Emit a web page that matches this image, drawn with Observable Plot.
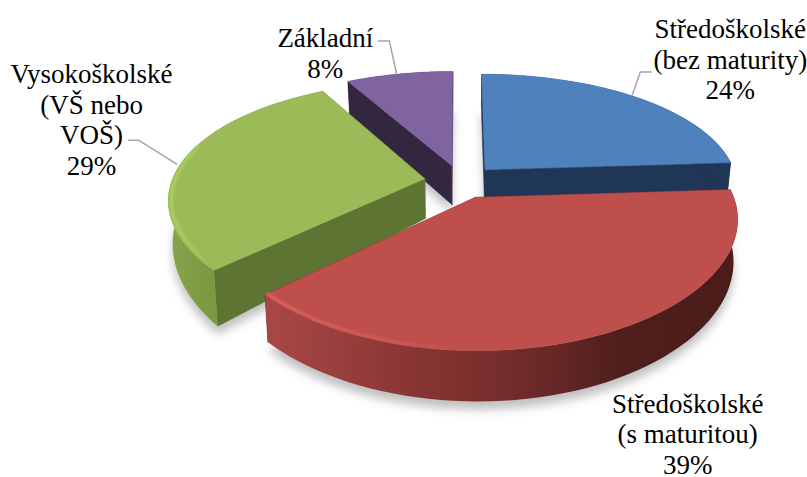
<!DOCTYPE html>
<html><head><meta charset="utf-8">
<script src="https://cdn.jsdelivr.net/npm/d3@7"></script>
<script src="https://cdn.jsdelivr.net/npm/@observablehq/plot@0.6"></script>
<style>html,body{margin:0;padding:0;background:#fff}</style>
</head><body><div id="chart"></div>
<script>
// Data
const categories = ["Středoškolské\n(bez maturity)", "Středoškolské\n(s maturitou)", "Vysokoškolské\n(VŠ nebo\nVOŠ)", "Základní"];
const values = [24, 39, 29, 8];
// Styles
const topColors = ["#4f81bd", "#be4f4c", "#9bbb59", "#8064a2"];
const sideColors = ["#1f3656", "#5f2423", "#5e7433", "#33273f"];
const depthPower = [1, 1, 2.5, 1];
// Layout of the projected pie
const W = 807, H = 477, cx = 460, cy = 181, R = 253, Ry = 117.4, k = 0.189, kx = 0.16, E = 0.144, depth = 40, bottomScale = 0.985;
const labelOffset = [[95, -38], [89, 98], [-91, -42], [-74, -21]];
const leaderOffset = [[[-3, -2], [5, -25], [16, -25]], null, [[-6, 3], [-44, -21], [-54, -21]], [[-3, -1], [-10, -33], [-21, -33]]];

const rad = d3.scaleLinear().domain([0, d3.sum(values)]).range([0, 2 * Math.PI]);
const cum = d3.cumsum(values);
const slices = values.map((v, i) => {
  const a0 = rad(cum[i] - v), a1 = rad(cum[i]), mid = (a0 + a1) / 2;
  return {i, a0, a1, mid, u0: E * Math.sin(mid), v0: -E * Math.cos(mid)};
});
function pt(s, a, r, low = false) {
  const u = s.u0 + r * Math.sin(a), v = s.v0 - r * Math.cos(a), w = 1 / (1 - k * v), wx = 1 / (1 - kx * v);
  return {x: u * wx * (low ? bottomScale : 1), y: v * w + (low ? depth * Math.pow(w, depthPower[s.i]) / Ry : 0)};
}
function arc(s, a0, a1, r = 1, low = false) {
  const n = 60, out = [];
  for (let j = 0; j <= n; j++) out.push(pt(s, a0 + (a1 - a0) * j / n, r, low));
  return out;
}
const apex = (s, low = false) => pt(s, 0, 0, low);
const poly = (points, fill, extra = {}) =>
  Plot.line(points, {x: "x", y: "y", fill, stroke: fill, strokeWidth: 0.5, curve: "linear-closed", ...extra});

const defs = () => {
  const d = d3.create("svg:defs");
  const grad = (id, stops) => {
    const g = d.append("linearGradient").attr("id", id);
    stops.forEach(([o, c, op = 1]) => g.append("stop").attr("offset", o).attr("stop-color", c).attr("stop-opacity", op));
  };
  grad("redWall", [[0, "#a84846"], [0.3, "#8a3634"], [0.55, "#6f2b29"], [0.75, "#4f1f1d"], [1, "#4a1c1a"]]);
  grad("greenWall", [[0, "#86a44a"], [0.35, "#7a9640"], [1, "#6c8638"]]);
  grad("redRim", [[0, "#de625e"], [0.4, "#d05854"], [0.7, "#c0504d", 0], [1, "#c0504d", 0]]);
  grad("greenRim", [[0, "#add260"], [0.6, "#a6ca5e"], [1, "#9bbb59", 0]]);
  return d.node();
};

const marks = [defs];
// soft shadows under the slices
slices.forEach(s => {
  const outline = [apex(s, true), ...arc(s, s.a0, s.a1, 1, true)].map(p => ({x: p.x, y: p.y + 8 / Ry}));
  marks.push(poly(outline, "#8c8c8c", {imageFilter: "blur(5px)", fillOpacity: 0.55, stroke: "none"}));
});
// slices, back to front
[3, 0, 2, 1].forEach(i => {
  const s = slices[i];
  for (const a of [s.a0, s.a1]) {
    marks.push(poly([apex(s), pt(s, a, 1), pt(s, a, 1, true), apex(s, true)], sideColors[i]));
  }
  const wallFill = i === 1 ? "url(#redWall)" : i === 2 ? "url(#greenWall)" : sideColors[i];
  const wall = [...arc(s, s.a0, s.a1), ...arc(s, s.a0, s.a1, 1, true).reverse()];
  marks.push(poly(wall, wallFill, {stroke: "none"}));
  marks.push(poly([apex(s), ...arc(s, s.a0, s.a1)], topColors[i]));
});
// bevel highlights along the front rims
marks.push(Plot.line(arc(slices[1], slices[1].a1, slices[1].a0 + 1.2, 0.99), {x: "x", y: "y", stroke: "url(#redRim)", strokeWidth: 3, imageFilter: "blur(1.2px)"}));
marks.push(Plot.line(arc(slices[2], slices[2].a0, slices[2].a0 + 1.05, 0.988), {x: "x", y: "y", stroke: "url(#greenRim)", strokeWidth: 3, imageFilter: "blur(1.2px)"}));
// leaders and labels
slices.forEach(s => {
  const i = s.i, rim = pt(s, s.mid, 1);
  if (leaderOffset[i]) {
    const pts = leaderOffset[i].map(([dx, dy]) => ({x: rim.x + dx / R, y: rim.y + dy / Ry}));
    marks.push(Plot.line(pts, {x: "x", y: "y", stroke: "#a6a6a6", strokeWidth: 1.5}));
  }
  marks.push(Plot.text([`${categories[i]}\n${values[i]}%`], {
    x: rim.x, y: rim.y, dx: labelOffset[i][0], dy: labelOffset[i][1],
    text: d => d, fontFamily: "Liberation Serif", fontSize: 27, lineHeight: 1.13, fill: "#000", textAnchor: "middle", lineAnchor: "middle"
  }));
});

const chart = Plot.plot({
  width: W, height: H, margin: 0,
  x: {axis: null, domain: [-cx / R, (W - cx) / R], range: [0, W]},
  y: {axis: null, domain: [-cy / Ry, (H - cy) / Ry], range: [0, H]},
  marks
});
document.getElementById("chart").append(chart);
</script></body></html>
